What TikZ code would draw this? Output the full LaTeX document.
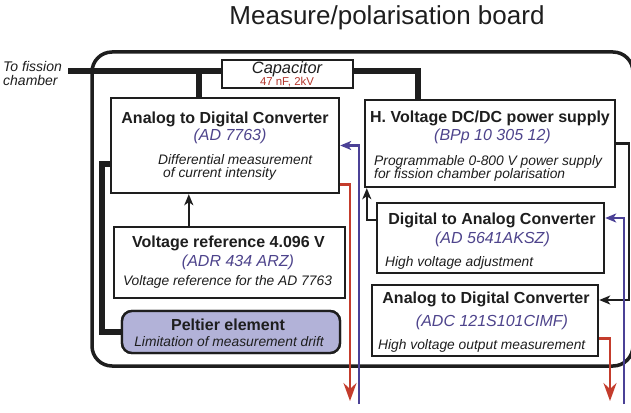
\documentclass[tikz,border=0pt]{standalone}
\usepackage{fontspec}
\setmainfont{Liberation Sans}
\usetikzlibrary{arrows.meta,calc}
\definecolor{ink}{RGB}{30,30,30}
\definecolor{boxline}{RGB}{30,30,30}
\definecolor{partblue}{RGB}{78,68,140}
\definecolor{lineblue}{RGB}{75,65,150}
\definecolor{linered}{RGB}{196,60,44}
\definecolor{capred}{RGB}{180,55,45}
\definecolor{peltfill}{RGB}{178,178,216}
\tikzset{
  box/.style={draw=boxline, line width=2.4pt, fill=white, rectangle, inner sep=0pt},
  pbox/.style={box, fill=peltfill, rounded corners=10pt},
  outerbox/.style={draw=boxline, line width=3.5pt, rounded corners=20pt},
  wire/.style={draw=boxline, line width=5.5pt},
  conn/.style={draw=boxline, line width=2.1pt, -{Stealth[length=11pt,width=9pt,inset=3pt]}},
  blueconn/.style={draw=lineblue, line width=2.6pt, -{Stealth[length=11pt,width=9pt,inset=3pt]}},
  redconn/.style={draw=linered, line width=2.6pt, -{Stealth[length=18pt,width=13pt,inset=6pt]}},
  ttl/.style={font=\fontsize{16}{18}\selectfont\bfseries, text=ink, anchor=base, inner sep=0pt},
  part/.style={font=\fontsize{16}{18}\selectfont\itshape, text=partblue, anchor=base, inner sep=0pt},
  desc/.style={font=\fontsize{13.8}{16}\selectfont\itshape, text=ink, anchor=base west, inner sep=0pt},
  descc/.style={desc, anchor=base},
}
\begin{document}
\begin{tikzpicture}[x=1pt,y=-1pt]
\useasboundingbox (0,0) rectangle (631,412);
\fill[white] (0,0) rectangle (631,412);

% title
\node[font=\fontsize{26}{30}\selectfont, text=ink, anchor=base, inner sep=0pt] (title) at (387,25) {Measure/polarisation board};

% outer board
\draw[outerbox] (92,52) rectangle (633,366);

% nodes (boxes)
\node[box, minimum width=131pt, minimum height=28pt] (cap) at (287.5,74) {};
\node[box, minimum width=228pt, minimum height=95pt] (adc1) at (225,145.5) {};
\node[box, minimum width=250pt, minimum height=87pt] (hv) at (490,143.5) {};
\node[box, minimum width=231pt, minimum height=71pt] (vref) at (229.5,262.5) {};
\node[pbox, minimum width=218pt, minimum height=42pt] (pelt) at (231,332) {};
\node[box, minimum width=227pt, minimum height=70pt] (dac) at (490.5,238) {};
\node[box, minimum width=226pt, minimum height=71pt] (adc2) at (485,320.5) {};

% helper coordinates
\coordinate (fc) at (68,71);
\coordinate (j1) at ($(adc1.north west)+(89,0)$);
\coordinate (hvtop) at ($(hv.north west)+(54,0)$);
\coordinate (p1) at ($(adc1.west)+(0,18.5)$);
\coordinate (v1) at ($(vref.north west)+(76,0)$);
\coordinate (r1) at ($(adc1.south east)+(0,-10)$);
\coordinate (r1end) at (350,401);
\coordinate (b1start) at (359,404);
\coordinate (d1) at ($(dac.west)+(0,-18)$);
\coordinate (hvin) at ($(hv.south west)+(3,0)$);
\coordinate (rt) at (629,0);
\coordinate (a2in) at ($(adc2.east)+(0,-20.5)$);
\coordinate (b2start) at (624,404);
\coordinate (dacin) at ($(dac.east)+(0,-20)$);
\coordinate (r2) at ($(adc2.south east)+(0,-19)$);
\coordinate (r2end) at (610,401);

% thick wires
\draw[wire] (fc) -- (fc -| cap.west);
\draw[wire] (fc -| cap.east) -| (hvtop);
\draw[wire] (j1) -- (j1 |- fc);
\draw[wire] (p1) -- ++(-8,0) |- (pelt.west);

% redraw boxes on top of wires
\node[box, minimum width=131pt, minimum height=28pt] at (cap) {};
\node[box, minimum width=228pt, minimum height=95pt] at (adc1) {};
\node[box, minimum width=250pt, minimum height=87pt] at (hv) {};
\node[pbox, minimum width=218pt, minimum height=42pt] at (pelt) {};

% connectors
\draw[conn] (v1) -- (v1 |- adc1.south);
\draw[conn] (d1) -| (hvin);
\draw[conn] (hv.east) -- (hv.east -| rt) -- (a2in -| rt) -- (a2in);
\draw[redconn] (r1) -| (r1end);
\draw[redconn] (r2) -| (r2end);
\draw[blueconn] (b1start) |- (adc1.east);
\draw[blueconn] (b2start) |- (dacin);

% texts
\node[font=\fontsize{14}{14}\selectfont\itshape, text=ink, anchor=base west, inner sep=0pt] (tf1) at (3,71) {To fission};
\node[font=\fontsize{14}{14}\selectfont\itshape, text=ink, anchor=base west, inner sep=0pt] (tf2) at (3,85) {chamber};

\node[font=\fontsize{16.4}{18}\selectfont\itshape, text=ink, anchor=base, inner sep=0pt] (capt) at (287,73) {Capacitor};
\node[font=\fontsize{11.4}{13}\selectfont, text=capred, anchor=base, inner sep=0pt] (capv) at (287,85) {47 nF, 2kV};

\node[ttl] (adc1t) at (225,123) {Analog to Digital Converter};
\node[part] (adc1p) at (230,140) {(AD 7763)};
\node[desc] (adc1d1) at (158,164) {Differential measurement};
\node[desc] (adc1d2) at (163,177) {of current intensity};

\node[ttl] (hvt) at (490,122) {H. Voltage DC/DC power supply};
\node[part] (hvp) at (492.5,140) {(BPp 10 305 12)};
\node[desc] (hvd1) at (374,165) {Programmable 0-800 V power supply};
\node[desc] (hvd2) at (374,178) {for fission chamber polarisation};

\node[ttl] (vreft) at (228.5,247) {Voltage reference 4.096 V};
\node[part] (vrefp) at (238,266) {(ADR 434 ARZ)};
\node[descc] (vrefd) at (227.5,285) {Voltage reference for the AD 7763};

\node[ttl] (peltt) at (228,330) {Peltier element};
\node[descc] (peltd) at (229,346) {Limitation of measurement drift};

\node[ttl] (dact) at (492,224) {Digital to Analog Converter};
\node[part] (dacp) at (492.5,243) {(AD 5641AKSZ)};
\node[desc] (dacd) at (385,266) {High voltage adjustment};

\node[ttl] (adc2t) at (486,303) {Analog to Digital Converter};
\node[part] (adc2p) at (492,326) {(ADC 121S101CIMF)};
\node[desc] (adc2d) at (378,349) {High voltage output measurement};
\end{tikzpicture}
\end{document}
